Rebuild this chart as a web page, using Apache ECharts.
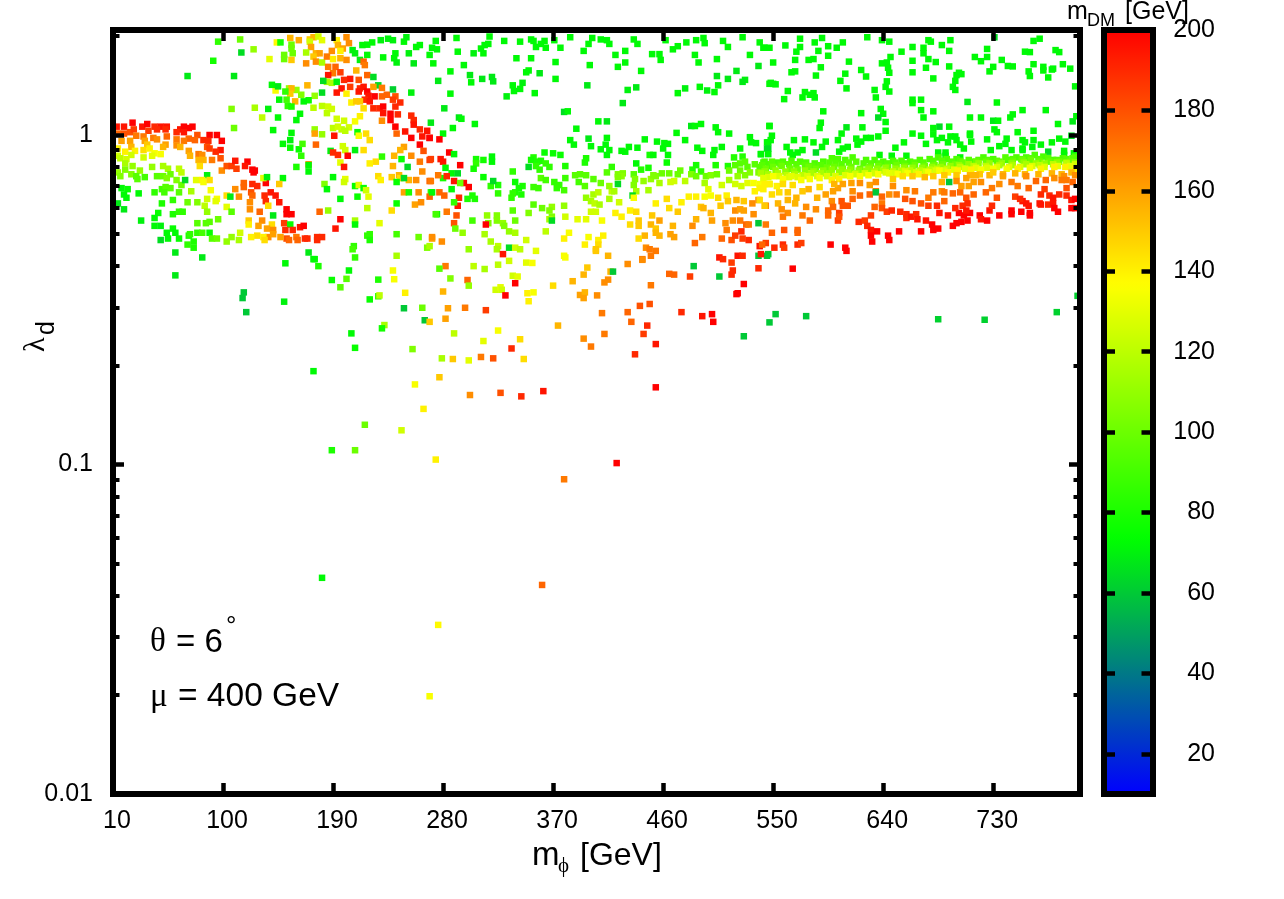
<!DOCTYPE html>
<html><head><meta charset="utf-8"><style>html,body{margin:0;background:#fff}#c{width:1284px;height:899px}</style>
<script src="https://cdn.jsdelivr.net/npm/echarts@6/dist/echarts.min.js"></script></head><body><div id="c"></div>
<script>
const xTicks=[10,100,190,280,370,460,550,640,730];
const yMajor=[0.01,0.1,1];
const yMinor=[0.02,0.03,0.04,0.05,0.06,0.07,0.08,0.09,0.2,0.3,0.4,0.5,0.6,0.7,0.8,0.9,2];
const cbTicks=[20,40,60,80,100,120,140,160,180,200];
const palette=['#0000ff','#00ff00','#ffff00','#ff0000'];
// each point: [m_phi GeV, lambda_d, m_DM GeV]; m_DM omitted means 72
const leftBandUpper=[[13,1.06,195],[19,1.06,195],[26,1.09,200],[34,1.06,195],[38,1.08,200],[44,1.06,190],[49,1.06,195],[54,1.06,195],[46,1.04,190],[53,1.04,190],[65,1.04,195],[68,1.06,200],[72,1.05,200],[75,1.06,200],[62,1.02,190],[68,1.02,195],
[14,1.01,175],[19,1.01,180],[24,1.02,180],[27,1.04,185],[39,1.03,185],[29,.995,170],[35,.99,170],[43,.98,170],[46,.97,165],[54,.99,175],[62,.97,170],[72,.975,175],[79,1.0,180],[77,.965,175],[68,.96,170],
[17,.96,160],[24,.96,160],[25,.92,155],[36,.96,160],[38,.935,150],[53,.935,160],[51,.92,155],[62,.93,165],[65,.92,155],[72,.895,160],[73,.865,155],
[14,.91,140],[20,.89,140],[35,.90,145],[40,.91,140],[28,.895,140],[44,.88,135],[49,.875,135],[42,.865,130],[25,.87,125],[35,.855,125],[14,.865,125],[16,.85,120],[21,.845,125],[20,.82,115],[26,.805,110],[20,.785,105],[32,.78,110],[42,.80,110],[51,.805,115],[55,.79,115],[64,.79,120],[66,.77,120],[14,.77,110],[16,.75,105],[25,.76,105],[29,.75,95],[30,.735,95],[36,.745,90],[46,.75,95],[51,.75,100],[57,.76,100],[54,.74,105],[62,.73,105],[66,.705,100],[69,.73,65],[87,.755,70]];
const leftBandDrop=[[89,1.0,200],[95,1.0,200],[84,.965,190],[88,.96,190],[87,.92,180],[99,.96,200],[98,.90,195],[94,.89,190],[89,.91,185],[80,.875,170],[83,.87,165],[80,.84,155],[84,.84,155],[81,.805,145],[91,.84,170],[98,.85,180],[99,.78,165],[103,.805,180],[107,.805,185],[110,.835,195],[111,.79,185],[120,.83,200],[118,.805,195],[124,.785,200],[126,.78,200],[125,.77,200]];
const leftBandLower=[[17,.69],[22,.685,75],[19,.66],[21,.645],[14,.62,68],[19,.595,68],[31,.665],[44,.67,85],[50,.685,90],[53,.695,95],[57,.69,95],[52,.67,90],[64,.67,95],[74,.675,115],[78,.73,130],[83,.73,140],[84,.72,135],[89,.73,145],[90,.68,135],[87,.64,125],[95,.64,135],[94,.63,130],[85,.61,120],[79,.625,105],[71,.625,100],[59,.635,85],[50,.62,80],[87,.585,110],[103,.655,145],[106,.65,68],[103,.605,130],[107,.585,95],
[47,.58,75],[44,.56],[33,.55,70],[44,.53],[49,.53,70],[59,.575,80],[64,.585,85],[67,.585,85],[79,.54,95],[86,.54,95],[89,.545,95],[96,.555,100],[59,.52,75],[54,.505],[61,.505],[55,.485],[64,.485,75],[49,.48,65],[72,.495,80],[73,.50,85],[79,.505,85],[83,.505,90],[89,.505,75],[91,.485,95],[95,.485,100],[103,.475,110],[107,.49,110],[114,.505,125],[113,.48,115],[71,.465,85],[76,.475,80],[76,.455,80],[61,.44,68],[83,.425,68],[61,.375,68]];
const secondBand=[[110,.685,165],[117,.715,175],[117,.695,175],[124,.71,190],[128,.70,190],[135,.715,200],[133,.74,130],[136,.745,70],[149,.74],[146,.71,150],[113,.65,165],[123,.67,180],[124,.655,175],[122,.625,165],[122,.595,165],[134,.655,190],[139,.67,195],[143,.655,195],[146,.625,195],[135,.63,190],[137,.61,145],[141,.57,68],[152,.595,200],[152,.575,200],[156,.575,200],[130,.585,175],[132,.55,165],[121,.55,150],[121,.535,140],[129,.53,160],[140,.535,145],[136,.52,160],[141,.515,165],[150,.54,185],[155,.535,75],[151,.515,190],[157,.515,190],[163,.525,195],[166,.53,200],[152,.485,180],[137,.49,165],[141,.50,160],[147,.49,160],[128,.495,145],[123,.49,140],[133,.49,140],[134,.48,145],[154,.48,175],[160,.49,170],[161,.48,175],[167,.485,190],[169,.485,190],[177,.49,190],[177,.48,190],[181,.49,190]];
const upperLeft=[[96,1.92,85],[114,1.95,100],[115,1.78,65],[125,1.82,110],[92,1.68,78],[71,1.51,68],[109,1.51,68],[144,1.91,138],[147,1.91,78],[155,1.97,155],[162,1.94,158],[156,1.88,100],[156,1.83,100],[157,1.77,100],[150,1.75,100],[150,1.70,100],[138,1.70,130],[156,1.69,150],[171,1.95,150],[174,1.98,155],[178,1.99,125],[181,1.94,130],[171,1.92,125],[172,1.85,160],[168,1.78,115],[176,1.77,155],[179,1.77,160],[174,1.73,150],[176,1.67,165],[181,1.66,115],[168,1.65,165],[185,1.73,170],[189,1.80,165],[193,1.94,140],[201,1.98,165],[194,1.875,155],[203,1.90,165],[198,1.83,160],[196,1.80,140],[206,1.81,70],[208,1.77,70],[190,1.70,140],[196,1.71,155],[201,1.69,165],
[214,1.875],[218,1.88],[222,1.91],[229,1.94,70],[235,1.96,70],[239,1.94,70],[248,1.92],[250,1.98,70],[258,1.85],[261,1.875],[252,1.77,70],[241,1.77],[231,1.72],[240,1.71],[242,1.66,70],[256,1.65,68],[218,1.75],[212,1.69,70]];
const diagonalRidge=[[186,1.61,170],[192,1.61,175],[196,1.55,185],[204,1.48,195],[199,1.47,190],[190,1.54,170],[186,1.52,195],[211,1.47,180],[215,1.67,175],[216,1.63,170],[209,1.57,155],[218,1.52,175],[223,1.50,65],[204,1.40,185],[197,1.385,195],[193,1.345,195],[201,1.335,140],[205,1.255,140],[212,1.385,190],[211,1.355,195],[215,1.40,195],[218,1.355,200],[219,1.315,195],[224,1.31,200],[216,1.28,190],[220,1.265,195],[223,1.205,190],[228,1.205,190],[231,1.22,200],[231,1.165,195],[237,1.16,200],[237,1.11,200],[243,1.155,190],[241,1.06,200],[230,1.31,175],[234,1.325,175],[241,1.31,180],[239,1.28,185],[245,1.255,190],[241,1.22,190],[227,1.415,65],[230,1.39,170],[223,1.40,160],[239,1.375,62],[254,1.345,70],[212,1.265,150],[209,1.265,150],[215,1.205,145],[212,1.14,140],[208,1.10,135],[230,1.105,165],[254,1.145,190],[256,1.11,190],[256,1.075,195],[249,1.025,195],[242,1.01,175],[254,.98,200],[261,1.04,190],[267,1.03,195],[263,.99,195],[269,.98,195],[261,.935,200],[264,.895,180],[254,.865,165],[248,.92,160],[245,.90,155],[269,.84,185],[261,.83,170],[263,.775,165],[252,.73,155],[258,.73,165],[269,.725,175]];
const midScatter=[[185,1.45,115],[189,1.44,115],[193,1.45,70],[182,1.46,65],[181,1.345,65],[175,1.315,110],[170,1.275,75],[166,1.265],[159,1.265,155],[164,1.325,105],[160,1.37,110],[154,1.385,110],[156,1.385,155],[155,1.335,150],[151,1.355,85],[169,1.415,155],[143,1.365,135],[140,1.42],[145,1.405,68],[146,1.28],[152,1.28,90],[153,1.225,85],[156,1.22,80],[163,1.16],[160,1.11],[145,1.13],[132,1.13,120],[126,1.21,115],[137,1.20,70],[107,1.20,105],[109,1.05,100],[141,1.035],[156,1.015],[155,.965,70],[155,.915,75],[149,.94],[162,.905,75],[165,.94,90],[164,.865,85],[160,.80,80],[170,.815,165],[170,.81],[170,.775],[174,1.21,120],[181,1.225,120],[186,1.22,125],[189,1.20,125],[185,1.165,120],[193,1.12,125],[199,1.105,125],[197,1.04,120],[190,1.05,120],[194,1.06,125],[203,1.055,125],[200,1.03,120],[210,1.02,75],[211,.995,135],[217,1.01,145],[191,.995,195],[175,1.04,110],[175,1.01,160],[181,1.005,110],[176,.935,175],[220,.965,145],[215,.90,145],[208,.90,70],[198,.925,125],[200,.90,125],[188,.895,70],[190,.885,190],[194,.87,190],[202,.865,200],[196,.825,130],[199,.80,195],[230,.86,85],[240,.865,155],[246,.845,75],[251,.80,65],[239,.805,155],[225,.83,145],[220,.82,140],
[190,.745],[200,.735,130],[199,.72,125],[227,.75,145],[229,.73,140],[238,.745,150],[244,.755,155],[245,.74,145],[248,.74,65],[242,.72,75],[208,.70,75],[211,.705,130],[215,.69,75],[217,.68,125],[219,.65,130],[210,.65,75],[183,.71,105],[185,.685],[196,.64],[248,.67,160],[252,.67,80],[260,.67,165],[270,.67,85],[269,.65,175],[257,.615,160],[262,.625,165],[242,.62,75],[218,.60,120],[238,.59,145],[275,.575,75],[186,.59,110],[179,.585,175],[208,.55,115],[196,.555,200],[208,.535],[228,.54,130],[192,.52,195],[220,.50,85],[218,.495,85],[220,.48,80],[242,.50,90],[260,.49,100],[271,.485,160],[267,.455,105],[207,.46,85],[206,.45,90],[170,.44,68],[175,.42,75],[208,.425,85],[242,.43,115]];
const topCentreGreen=[[274,1.93],[271,1.84],[275,1.82],[269,1.75],[272,1.65],[292,1.79],[291,1.97],[305,1.77,70],[311,1.83],[314,1.875],[317,1.89],[313,1.77],[318,1.99],[330,1.93],[343,1.92],[352,1.95],[354,1.93],[356,1.85],[363,1.93],[364,1.84],[360,1.89],[371,1.94],[376,1.84],[384,1.98],[402,1.97],[399,1.89],[409,1.95],[414,1.94],[416,1.89],[395,1.80],[421,1.75],[429,1.80],[436,1.95],[439,1.89],[451,1.76],[457,1.76],[458,1.69],[462,1.94],[468,1.82],[472,1.86],[479,1.91],[487,1.94],[493,1.97],[494,1.90],[509,1.93],[513,1.85],[525,1.98],[539,1.91],[543,1.84],[486,1.75],[489,1.66],[504,1.70],[531,1.75],[538,1.62,68],[520,1.565,68],[504,1.51,68],[513,1.48,68],[527,1.47,70],[525,1.45,68],[547,1.43],[505,1.415],[490,1.40],[478,1.385,70],[496,1.365,70],[502,1.35],[472,1.34],
[286,1.56],[297,1.63],[302,1.52,68],[303,1.445],[312,1.48,68],[320,1.50,68],[321,1.455,68],[340,1.71],[352,1.71],[372,1.665],[348,1.55],[350,1.57],[359,1.54,68],[372,1.48],[400,1.63],[423,1.61],[429,1.66],[442,1.565],[398,1.415,68],[431,1.37,70],[438,1.395,68],[427,1.25,68],[276,1.46,68],[286,1.335],[337,1.415],[345,1.44,70],[338,1.36],[343,1.38],[332,1.31,70],[355,1.34],[281,1.205,68],[293,1.13,68],[295,1.12],[306,1.08],[270,1.09,68],[288,1.05],[280,1.01],[379,1.175,65],[382,1.18],[407,1.10],[414,1.10,68],[389,1.045],[483,1.065,68],[486,1.065],[491,1.08],[503,1.055],[505,1.02],[514,1.01],[471,1.015],[547,1.065],
[384,.965],[387,.935],[399,.975,68],[414,.98],[401,.925],[409,.905],[413,.935],[416,.90],[414,.87],[426,.895],[429,.89],[432,.92],[439,.915],[445,.97],[455,.955],[464,.94],[461,.945],[460,.91],[478,.965],[488,.915],[492,.895],[508,.92],[502,.90],[501,.87],[523,.91],[531,.985],[532,.95],[536,.945],[545,.95],[545,.91,65],[540,.875]];
const centreBand=[[363,.885,75],[370,.88,75],[376,.87,75],[354,.855,82],[352,.84,78],[350,.80,65],[357,.83,80],[360,.835,80],[356,.805,85],[364,.82,85],[367,.80,85],[359,.785,85],[380,.805,80],[397,.85,80],[396,.825,80],[418,.80,85],[414,.77,95],[307,.845,78],[307,.82,85],[305,.79,78],[313,.84,78],[320,.86],[320,.83],[337,.775,85],[438,.82],[442,.785,82],[448,.795,78],[449,.87,78],[452,.87],[464,.87],[463,.825,75],[487,.81,78],[484,.785,80],[491,.775,85],[503,.81,80],[513,.805,80],[518,.855,82],[525,.86,82],
[519,.81,95],[523,.82,95],[527,.83,95],[529,.80,95],[535,.815,95],[539,.80,95],[543,.83,90],[547,.805,90],[514,.78,100],[523,.78,100],[531,.77,105],[538,.77,105],[544,.77,105],[527,.755,105],[521,.75,110],
[360,.74,95],[364,.73,90],[380,.74,88],[371,.72,85],[375,.705,85],[373,.69,85],[379,.68,90],[388,.755,95],[392,.76,95],[397,.755,95],[403,.735,95],[391,.72,90],[396,.70,95],[409,.715,100],[423,.76,105],[427,.765,105],[426,.75,108],[423,.745,105],[436,.76,95],[437,.735,105],[436,.705,105],[438,.675,115],[448,.68,115],[444,.725,110],[450,.735,110],[452,.755,105],[454,.75,105],[457,.715,115],[459,.765,100],[465,.765,100],[472,.76,100],[474,.78,100],[483,.76,105],[487,.75,100],[495,.75,100],[499,.755,105],[504,.76,100],[494,.715,115],[497,.685,130],[508,.705,125],[466,.72,125],[469,.725,125],[478,.725,120],[514,.73,115],[519,.71,125],[524,.70,125],[529,.715,130],[534,.715,135],[539,.71,135],[535,.675,140],[542,.685,140],[547,.71,125],
[339,.72,75],[345,.70,80],[342,.69,78],[339,.67,80],[337,.665,85],[336,.645,85],[344,.66,80],[354,.695,88],[358,.69,88],[325,.705,80],[325,.665,85],[319,.70,85],[321,.725,65],[313,.745,75],[287,.765],[292,.765,65],[280,.74,78],[283,.75,190],[294,.81,200],[285,.885,200],[289,.875],[278,.845,195],[280,.83,195],[282,.795],[276,.755,170],[270,.845,185],[269,.98,200],[277,.97,200],[270,.725,170],[289,.725,195],[297,.715,200],[301,.695,200],[294,.715,100],[287,.685],[271,.67],[277,.67,175],[281,.655,175],[293,.645,190],[292,.61,195],[289,.625,85],[300,.64,80],[304,.655,80],[306,.64,80],[283,.585,170],[274,.575,90],[291,.57,180],[289,.54,180],[304,.55,90],[290,.52,100],[296,.505,110],[271,.49,165],[279,.475,165],[269,.46,115]];
const centreLower=[[316,.57,110],[324,.57,105],[317,.54,105],[315,.535,200],[324,.55,105],[329,.54,110],[330,.53,105],[339,.55,100],[334,.51,110],[339,.505,115],[314,.50,115],[319,.475,115],[325,.46,120],[324,.45,115],[301,.45,110],[334,.455,65],[339,.455,125],[343,.45,120],[348,.48,125],[356,.445,130],[329,.435,195],[364,.51,120],[337,.59,95],[350,.58,105],[354,.615,95],[361,.60,100],[369,.605,110],[367,.59,105],[369,.565,105],[367,.555,115],[369,.55,65],[379,.61,110],[380,.565,125],[390,.555,130],[397,.555,130],[410,.55,135],[383,.505,135],[379,.485,140],
[397,.645,110],[403,.66,115],[407,.67,120],[401,.63,115],[404,.62,120],[408,.615,115],[401,.585,125],[405,.585,125],[416,.64,115],[424,.625,125],[418,.675,120],[420,.675,115],[416,.70,110],[423,.71,65],[435,.655,65],[436,.645,135],[454,.62,140],[463,.64,145],[475,.625,140],[481,.65,140],[487,.65,140],[494,.65,135],[499,.655,135],[505,.645,145],[512,.655,140],[513,.63,150],[520,.635,155],[526,.63,150],[533,.62,165],[538,.635,165],[544,.61,165],[491,.605,150],[493,.60,155],[499,.58,155],[507,.61,150],[519,.59,165],[523,.595,160],[526,.59,160],[534,.575,165],[465,.60,145],[472,.585,150],[487,.555,155],[500,.55,160],[511,.54,165],[517,.55,165],[523,.55,170],[528,.535,175],[530,.535,170],[538,.54,60],[544,.535,170],[421,.58,140],[426,.565,140],[433,.59,140],[438,.585,145],[451,.57,150],[457,.55,160],[433,.535,145],[440,.55,150],[440,.53,150],[450,.535,155],[454,.52,150],[468,.53,155],[484,.53,165],[445,.495,155],[440,.485,145],[457,.495,155],[454,.505,155],[466,.50,160],[469,.49,160],[512,.515,170],[508,.485,175],[516,.48,180],[519,.495,185],[524,.51,190],[525,.485,185],[530,.48,190],[544,.47,185],[539,.46,195],[492,.49,170],[486,.47,175],[411,.495,140],[399,.49,135],[407,.48,140],[407,.465,145],[396,.465,140],[405,.45,150],[405,.445,150],[446,.455,165],[449,.45,170],[454,.445,170],[450,.43,170],[443,.42,170],[415,.43,155],[379,.43,135],[521,.43,195],[525,.43,190],[506,.425,195],[538,.43,60],[545,.43,60],[509,.42,190]];
const topRightGreen=[[572,1.96],[590,1.97],[584,1.91],[560,1.87],[572,1.85],[595,1.86],[607,1.91],[602,1.84],[542,1.84],[547,1.84],[569,1.79],[587,1.80],[595,1.74],[568,1.69],[579,1.69],[583,1.70],[550,1.66],[589,1.605],[565,1.55],[568,1.56],[585,1.515],[612,1.67],[627,1.98],[639,1.94],[645,1.92],[655,1.79],[664,1.85],[673,1.84],[673,1.77],[677,1.70],[683,1.665],[664,1.68],[646,1.725],[639,1.65],[643,1.66],[644,1.60],[645,1.545],[622,1.575],[626,1.505],[609,1.535],[605,1.46],[664,1.55],[675,1.60],[694,1.80],[695,1.94],[688,1.875],[677,1.94],[679,1.92],[694,1.615],[715,1.725],[720,1.675],[725,1.825],[725,1.725],[727,1.56],[730,1.61],[731,1.98,65],[737,1.69],[742,1.62],[746,1.615],[756,1.79],[760,1.785],[763,1.93],[768,1.96],[781,1.81],[784,1.785],[759,1.56],[763,1.64],[760,1.51],[771,1.61],[771,1.57],[778,1.58],[779,1.59],[775,1.495],[787,1.64],[793,1.59],[797,1.405],[700,1.52],[704,1.53],[702,1.545],[699,1.46],[697,1.40],[699,1.37],[681,1.485],
[550,1.43],[548,1.44],[552,1.425],[562,1.36],[559,1.285],[574,1.30],[576,1.35],[580,1.325],[583,1.34],[584,1.30],[610,1.385],[643,1.455],[642,1.40],[645,1.355],[633,1.37],[634,1.30],[664,1.28],[671,1.28],[664,1.25],[671,1.19],[673,1.13],[681,1.18],[638,1.20],[640,1.16],[636,1.13,65],[642,1.095],[622,1.165],[591,1.18],[589,1.09],[588,1.05],[547,1.065],[610,1.055,68],[606,1.01],[623,1.055],[642,1.03],[636,.99],[709,1.26,68],[733,1.255],[711,1.13],[720,1.13],[730,1.105,68],[734,1.105],[744,1.13],[746,1.155],[754,1.19],[773,1.19],[783,1.08],[795,1.10,68],[798,1.14],[731,1.04],[733,1.02],[750,1.02],[763,1.03],[794,.995,65],[686,1.06,65],[694,1.06],[681,1.05],[681,1.005],[664,1.01],[671,.995],[684,.965],[688,.98],[695,.99],[699,.99],[693,.95],[700,.965],[703,.935],[706,.91],[711,1.01],[711,1.0],[712,.955],[725,.97],[741,.975],[740,.94],[735,.925],[754,.965],[756,.95],[763,.965],[762,.92],[769,.935],[778,.95],[784,.975],[789,.955],[754,.91],[745,.90],[728,.90],[650,.915],[657,.95],[675,.94],
[549,.995],[548,.965],[546,.95],[546,.91,65],[561,.92],[567,.965],[576,.97],[583,.95],[593,.955],[590,.92],[603,.965],[618,.975],[622,.955],[626,.98],[630,.98],[619,.935],[611,.92],[607,.91],[585,.885,65],[574,.90],[564,.885],[566,.87],[570,.885],[546,.875],[540,.875],[604,.89],[775,.89,65],[788,.895],[788,.87],[796,.88],[685,.885],[691,.885],[685,.86],[691,.865],[703,.855],[637,.87],[647,.865],[659,.865],[754,.90]];
const rightBandGreen=[[542,.825,92],[547,.815,92],[553,.825,92],[558,.83,92],[565,.835,92],[572,.83,92],[577,.825,92],[584,.82,92],[591,.83,92],[598,.85,92],[603,.845,92],[609,.84,92],[615,.855,92],[626,.84,92],[633,.84,92],[640,.83,92],[648,.835,92],[655,.835,92],[662,.83,92],[670,.84,92],[678,.845,92],[685,.855,92],[692,.845,92],[700,.845,92],[714,.83,92],[722,.855,92],[730,.845,92],[742,.84,92],[749,.855,92],[757,.855,92],[764,.87,92],[771,.86,92],[779,.84,92],[787,.85,92],[797,.86,92],
[541,.81,95],[549,.83,95],[556,.815,95],[563,.815,95],[569,.815,95],[576,.81,95],[582,.805,95],[589,.81,95],[596,.825,95],[601,.82,95],[606,.815,95],[612,.825,95],[618,.83,95],[624,.82,95],[630,.82,95],[637,.82,95],[643,.82,95],[650,.825,95],[657,.82,95],[665,.825,95],[673,.825,95],[681,.835,95],[688,.835,95],[696,.83,95],[703,.835,95],[710,.84,95],[718,.84,95],[726,.84,95],[733,.835,95],[740,.855,95],[746,.845,95],[753,.845,95],[760,.85,95],[767,.845,95],[775,.85,95],[782,.84,95],[790,.845,95],[795,.85,95],
[544,.79,100],[550,.80,100],[557,.805,100],[564,.79,100],[570,.785,100],[579,.80,100],[585,.79,100],[594,.795,100],[600,.80,100],[607,.79,100],[614,.80,100],[621,.79,100],[629,.80,100],[636,.805,100],[644,.80,100],[651,.81,100],[658,.805,100],[666,.81,100],[674,.805,100],[682,.81,100],[689,.815,100],[699,.815,100],[705,.825,100],[716,.83,100],[724,.83,100],[735,.83,100],[746,.83,100],[754,.84,100],[761,.84,100],[768,.83,100],[776,.83,100],[784,.83,100],[793,.83,100],
[543,.775,108],[552,.78,108],[560,.775,108],[567,.775,108],[576,.78,108],[583,.775,110],[591,.78,108],[598,.785,108],[606,.785,108],[613,.785,108],[620,.78,108],[628,.79,108],[635,.79,108],[642,.795,110],[650,.79,110],[657,.795,110],[664,.795,110],[672,.795,110],[680,.80,110],[687,.80,110],[695,.805,110],[702,.81,110],[710,.815,110],[718,.82,110],[727,.82,110],[737,.82,110],[745,.82,108],[755,.825,108],[765,.82,110],[772,.82,110],[782,.825,108],[790,.825,110],[797,.825,110]];
const rightBandYellow=[[540,.765,115],[546,.76,115],[554,.765,115],[561,.755,120],[568,.76,115],[574,.755,120],[581,.765,115],[589,.765,115],[596,.765,110],[604,.77,110],[611,.77,115],[618,.765,115],[626,.78,110],[633,.775,115],[640,.78,115],[648,.775,120],[655,.78,120],[662,.78,120],[670,.78,120],[678,.785,120],[684,.79,120],[692,.79,120],[703,.80,120],[714,.805,120],[724,.805,120],[735,.81,115],[746,.81,115],[757,.815,115],[768,.81,120],[779,.815,120],[790,.82,120],[797,.815,125],
[546,.745,128],[555,.75,128],[563,.745,128],[570,.745,128],[578,.75,128],[586,.75,128],[594,.75,128],[601,.75,128],[609,.755,128],[617,.76,125],[625,.765,125],[633,.765,125],[642,.77,128],[650,.765,128],[658,.775,128],[667,.77,128],[675,.775,128],[683,.78,128],[690,.78,128],[698,.785,130],[707,.79,130],[716,.795,130],[725,.795,128],[733,.80,128],[743,.80,128],[752,.80,128],[762,.805,128],[772,.80,128],[783,.805,130],[793,.805,130],
[542,.74,130],[550,.75,135],[558,.735,135],[565,.75,130],[573,.73,135],[580,.735,135],[588,.74,135],[598,.73,140],[604,.735,140],[613,.75,135],[621,.75,135],[628,.755,135],[636,.76,135],[645,.765,130],[652,.76,135],[660,.765,135],[669,.76,140],[677,.77,135],[686,.78,135],[693,.77,140],[701,.78,140],[712,.785,140],[720,.785,135],[730,.79,135],[741,.79,135],[750,.79,140],[760,.795,135],[769,.79,140],[780,.80,140],[789,.80,140],[797,.79,140],
[648,.735,150],[656,.75,145],[664,.75,150],[674,.745,155],[681,.75,150],[690,.755,150],[700,.755,150],[711,.755,155],[719,.76,150],[727,.755,155],[738,.76,155],[748,.765,155],[756,.76,155],[767,.76,155],[778,.765,155],[786,.76,155],[794,.77,155],[780,.74,165],[788,.75,165],[797,.755,165]];
const rightBandOrange=[[539,.69,140],[543,.71,140],[547,.71,140],[553,.70,140],[558,.71,145],[566,.705,145],[549,.66,145],[555,.67,145],[562,.67,150],[574,.675,150],[579,.685,155],[588,.695,145],[586,.645,155],[593,.66,160],[599,.675,160],[603,.69,160],[607,.71,160],[600,.71,155],[614,.715,160],[621,.715,165],[629,.705,160],[634,.72,165],[634,.675,170],[629,.66,175],[621,.655,175],[615,.675,165],[615,.64,175],[611,.61,180],[607,.61,180],[606,.63,180],[598,.63,165],[599,.605,175],[595,.59,175],[604,.58,185],[603,.55,185],[595,.57,175],[580,.55,175],[574,.57,170],[569,.645,155],[568,.62,155],[562,.635,155],[554,.62,155],[543,.61,150],[539,.635,145],[557,.595,165],[562,.58,165],[558,.565,170],[577,.605,165],[585,.595,165],[604,.565,180],[630,.57,185],
[648,.70,165],[645,.66,165],[651,.66,170],[659,.68,165],[666,.675,170],[658,.64,180],[664,.63,180],[671,.62,180],[677,.645,170],[681,.67,170],[688,.72,155],[688,.675,165],[690,.67,170],[677,.61,185],[684,.61,190],[690,.63,175],[697,.665,175],[703,.67,175],[714,.66,175],[708,.645,180],[705,.61,190],[709,.62,190],[714,.72,160],[704,.70,160],[700,.725,165],[710,.70,160],[720,.72,165],[724,.67,175],[729,.69,170],[738,.75,160],[735,.71,165],[745,.72,170],[750,.70,170],[759,.69,175],[765,.725,175],[773,.73,175],[786,.73,170],[795,.72,175],[790,.73,170],[757,.75,165],[730,.77,150],[716,.755,155],[708,.74,160],[694,.72,60],[634,.67,60]];
const rightBandRed=[[620,.545,190],[625,.55,185],[627,.53,190],[630,.515,195],[635,.51,200],[630,.495,200],[631,.475,200],[644,.495,200],[645,.48,200],[653,.51,200],
[639,.65,175],[639,.62,170],[633,.605,175],[639,.60,180],[643,.585,185],[647,.59,190],[654,.585,190],[659,.575,190],[659,.56,190],[663,.565,195],[667,.575,190],[668,.555,195],[675,.55,195],[671,.51,200],[680,.535,200],[681,.515,200],[685,.52,200],[686,.58,195],[693,.57,195],[697,.53,200],[700,.54,200],[704,.545,200],[709,.55,200],[706,.57,200],[702,.58,200],[699,.60,190],[711,.58,200],[708,.59,195],[719,.57,200],[720,.555,195],[725,.55,200],[727,.59,195],[729,.61,190],[735,.57,200],[733,.645,180],[745,.59,200],[745,.575,200],[753,.585,200],[760,.58,200],[760,.57,200],[757,.62,195],[754,.63,195],[759,.61,195],[748,.65,185],[752,.64,190],[769,.615,195],[768,.62,195],[775,.615,190],[779,.62,195],[780,.60,200],[783,.585,200],[772,.685,185],[769,.66,190],[776,.655,190],[779,.645,195],[784,.66,190],[790,.69,180],[790,.655,190],[794,.635,195],[797,.64,200],[794,.60,200],[797,.60,200],
[549,.505,175],[559,.515,180],[570,.515,175],[570,.505,175],[541,.465,175],[551,.455,190],[558,.465,190],[559,.455,185],[570,.465,190],[573,.47,185],[597,.465,200],[609,.455,200],[610,.445,200],[546,.435,60],[540,.435,195]];
const sparseLowerLeft=[[151,.408],[174,.42],[178,.40,80],[203,.388],[189,.363,75],[201,.366,95],[196,.345,95],[227,.364,80],[239,.388,135],[240,.365,135],[282,.40,170],[277,.393,95],[305,.40,120],[314,.392,115],[325,.404,120],[334,.415,125],[348,.41,130],[353,.409,135],[286,.367,105],[300,.363,175],[301,.349,110],[249,.332,140],[280,.335,155],[117,.333,60],[116,.32,60],[150,.312,70],[119,.29,60],[220,.317,75],[227,.324,85],[228,.326,120],[248,.298,60],[263,.299,100],[284,.298,160],[298,.299,170],[315,.294,185],[265,.274,60],[269,.271,150],[282,.277,160],[232,.265,115],[230,.259,78],[205,.25],[208,.226,75],[289,.25,120],[255,.224,105],[279,.21,115],[288,.209,150],[301,.207,130],[311,.212,170],[321,.21,180],[336,.225,190],[313,.237,130],[325,.255,135],[343,.24,145],[346,.209,145],[277,.184,150],[257,.175,135],[174,.192],[302,.1625,165],[327,.165,180],[344,.161,190],[264,.1475,140],[216,.132,100],[246,.127,125],[189,.1105,80],[208,.1105,100],[274,.1035,140],[323,.339,125],[327,.345,130],[328,.339,125],[331,.326,200],[339,.355,200],[337,.374,125],[341,.372,130],[349,.331,140],[354,.333,135],[350,.313,140],[181,.0453],[276,.0326,138],[269,.0198,135],[361,.0431,175],[379,.0902,170],[422,.101,200]];
const sparseLowerRight=[[370,.349,145],[386,.36,155],[380,.425,135],[398,.396,150],[395,.377,155],[392,.327,160],[396,.333,155],[395,.32,160],[406,.326,165],[412,.357,165],[415,.364,165],[417,.385,155],[419,.385,60],[431,.406,165],[443,.418,165],[450,.35,170],[465,.379,175],[469,.377,175],[482,.372,185],[485,.40,60],[506,.372,60],[516,.377,190],[517,.388,190],[516,.41,185],[538,.394,190],[566,.393,200],[526,.353,200],[521,.331,200],[520,.329,200],[410,.288,170],[431,.29,175],[441,.303,180],[449,.307,180],[434,.271,175],[447,.264,190],[475,.29,190],[492,.282,195],[500,.286,200],[501,.271,200],[552,.286,60],[547,.27,60],[577,.282,60],[526,.245,60],[374,.264,155],[395,.241,165],[401,.228,170],[412,.249,170],[444,.249,185],[454,.232,195],[437,.216,190],[362,.167,195],[454,.1715,200],[685,.276,62],[723,.275,62],[782,.29,62],[799,.325,62]];
const groups=[leftBandUpper,leftBandDrop,leftBandLower,secondBand,upperLeft,diagonalRidge,midScatter,topCentreGreen,centreBand,centreLower,topRightGreen,rightBandGreen,rightBandYellow,rightBandOrange,rightBandRed,sparseLowerLeft,sparseLowerRight];
const pts=groups.flat().map(p=>[p[0],p[1],p[2]===undefined?72:p[2]]);
const F='"Liberation Sans"',G='"Liberation Serif"';
const line={show:true,lineStyle:{color:'#000',width:6,cap:'square'},onZero:false};
function xA(pos,lab){return {type:'value',gridIndex:0,position:pos,min:10,max:801,z:5,splitLine:{show:false},axisLine:line,
 axisTick:{inside:true,length:11,customValues:xTicks,lineStyle:{width:4.5,color:'#000'}},
 axisLabel:{show:lab,customValues:xTicks,margin:15,padding:[0,0,0,8],fontFamily:F,fontSize:25,color:'#000'}};}
function yA(pos,vals,len,w,lab){return {type:'log',logBase:10,gridIndex:0,position:pos,min:0.01,max:2.083,splitLine:{show:false},minorTick:{show:false},axisLine:line,z:5,
 axisTick:{inside:true,length:len,customValues:vals,lineStyle:{width:w,color:'#000'}},
 axisLabel:{show:lab,customValues:lab?yMajor:undefined,margin:20,padding:[4,0,0,0],fontFamily:F,fontSize:25,color:'#000',formatter:v=>String(+v)}};}
const txt=(x,y,t,size,fam,rot)=>({type:'text',x,y,rotation:rot||0,style:{text:t,fontFamily:fam||F,fontSize:size,fill:'#000',verticalAlign:'bottom'}});
const option={animation:false,backgroundColor:'#fff',
 grid:[{left:113,top:30,width:967,height:764,outerBoundsMode:'none'},{left:1104,top:30,width:48.5,height:764,outerBoundsMode:'none'}],
 xAxis:[xA('bottom',true),xA('top',false),
  {type:'value',gridIndex:1,position:'bottom',min:0,max:1,z:5,axisLine:line,axisTick:{show:false},axisLabel:{show:false},splitLine:{show:false}},
  {type:'value',gridIndex:1,position:'top',min:0,max:1,z:5,axisLine:line,axisTick:{show:false},axisLabel:{show:false},splitLine:{show:false}}],
 yAxis:[yA('left',yMajor,11,4.5,true),yA('left',yMinor,6.5,4,false),yA('right',yMajor,11,4.5,false),yA('right',yMinor,6.5,4,false),
  {type:'value',gridIndex:1,position:'right',min:10,max:200,z:5,splitLine:{show:false},axisLine:line,axisTick:{inside:true,length:11,customValues:cbTicks,lineStyle:{width:4.5,color:'#000'}},
   axisLabel:{customValues:cbTicks,margin:62.5,align:'right',padding:[4,0,0,0],fontFamily:F,fontSize:25,color:'#000'}},
  {type:'value',gridIndex:1,position:'left',min:10,max:200,z:5,splitLine:{show:false},axisLine:line,axisTick:{inside:true,length:11,customValues:cbTicks,lineStyle:{width:4.5,color:'#000'}},axisLabel:{show:false}}],
 visualMap:{type:'continuous',min:10,max:200,dimension:2,seriesIndex:0,calculable:false,realtime:false,hoverLink:false,itemWidth:44,itemHeight:764,left:1106,top:30,padding:0,text:null,showLabel:false,inRange:{color:palette},z:1,textStyle:{fontSize:0,color:'transparent'}},
 series:[{type:'scatter',xAxisIndex:0,yAxisIndex:0,symbol:'rect',symbolSize:6.5,data:pts,itemStyle:{opacity:1},clip:true,progressive:0,large:false}],
 graphic:[
  txt(150,659,'θ',33,G),txt(176,659,'= 6',33),txt(226,640,'°',26),
  txt(150,714,'μ',33,G),txt(178,714,'= 400 GeV',33.5),
  txt(532,872,'m',33),txt(558,877,'ϕ',21,G),txt(580,872,'[GeV]',32),
  txt(51,352,'λ',30,G,Math.PI/2),txt(60,335,'d',25,F,Math.PI/2),
  txt(1067,25,'m',25),txt(1087,30,'DM',18),txt(1125,25,'[GeV]',25)
 ]};
echarts.init(document.getElementById('c')).setOption(option);
</script></body></html>
